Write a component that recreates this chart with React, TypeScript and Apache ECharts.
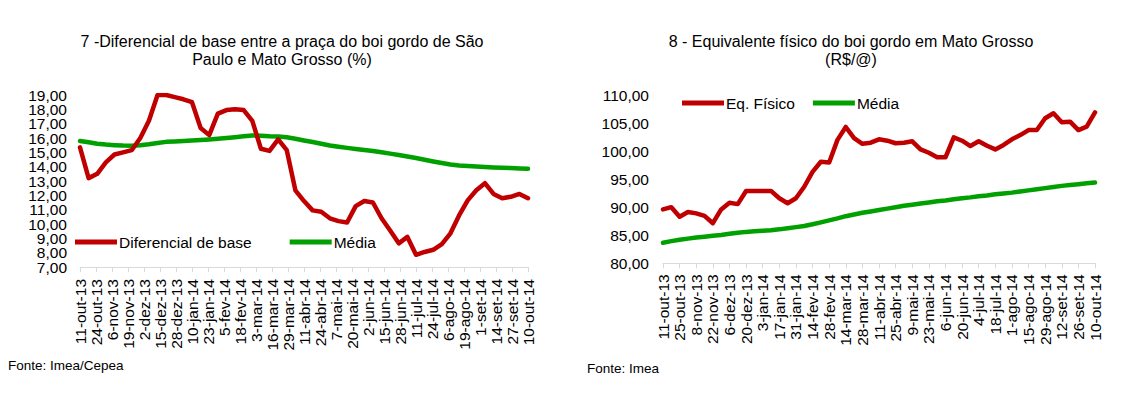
import React, { useEffect, useRef } from "react";
import * as echarts from "echarts";

// Weekly observation dates (shared by both charts)
const weekDates = [
  "11-out-13", "18-out-13", "25-out-13", "1-nov-13", "8-nov-13", "15-nov-13", "22-nov-13", "29-nov-13",
  "6-dez-13", "13-dez-13", "20-dez-13", "27-dez-13", "3-jan-14", "10-jan-14", "17-jan-14", "24-jan-14",
  "31-jan-14", "7-fev-14", "14-fev-14", "21-fev-14", "28-fev-14", "7-mar-14", "14-mar-14", "21-mar-14",
  "28-mar-14", "4-abr-14", "11-abr-14", "18-abr-14", "25-abr-14", "2-mai-14", "9-mai-14", "16-mai-14",
  "23-mai-14", "30-mai-14", "6-jun-14", "13-jun-14", "20-jun-14", "27-jun-14", "4-jul-14", "11-jul-14",
  "18-jul-14", "25-jul-14", "1-ago-14", "8-ago-14", "15-ago-14", "22-ago-14", "29-ago-14", "5-set-14",
  "12-set-14", "19-set-14", "26-set-14", "3-out-14", "10-out-14",
];

// Left chart tick labels (every 13 days)
const leftTickLabels = [
  "11-out-13", "24-out-13", "6-nov-13", "19-nov-13", "2-dez-13", "15-dez-13", "28-dez-13", "10-jan-14",
  "23-jan-14", "5-fev-14", "18-fev-14", "3-mar-14", "16-mar-14", "29-mar-14", "11-abr-14", "24-abr-14",
  "7-mai-14", "20-mai-14", "2-jun-14", "15-jun-14", "28-jun-14", "11-jul-14", "24-jul-14", "6-ago-14",
  "19-ago-14", "1-set-14", "14-set-14", "27-set-14", "10-out-14",
];

// Left chart y tick labels (7 .. 19, step 1)
const leftYTicks = [7, 8, 9, 10, 11, 12, 13, 14, 15, 16, 17, 18, 19];

const leftDiferencial = [
  15.35, 13.2, 13.5, 14.3, 14.85, 15.0, 15.15, 16.0, 17.2, 19.0, 19.0, 18.85, 18.7, 18.5, 16.7, 16.2,
  17.7, 17.95, 18.0, 17.95, 17.2, 15.25, 15.1, 15.9, 15.15, 12.35, 11.6, 10.95, 10.85, 10.4, 10.2, 10.1,
  11.25, 11.6, 11.5, 10.4, 9.55, 8.65, 9.1, 7.85, 8.05, 8.2, 8.6, 9.35, 10.6, 11.65, 12.35, 12.85,
  12.1, 11.8, 11.9, 12.1, 11.8,
];

const leftMedia = [
  15.79, 15.7, 15.6, 15.54, 15.5, 15.47, 15.46, 15.5, 15.56, 15.65, 15.73, 15.76, 15.79, 15.83, 15.86, 15.9,
  15.95, 16.0, 16.06, 16.12, 16.18, 16.16, 16.12, 16.1, 16.05, 15.95, 15.83, 15.72, 15.6, 15.48, 15.39, 15.31,
  15.24, 15.16, 15.09, 15.0, 14.91, 14.82, 14.71, 14.6, 14.48, 14.36, 14.25, 14.15, 14.08, 14.04, 14.01, 13.98,
  13.95, 13.93, 13.9, 13.88, 13.85,
];

const rightEqFisico = [
  89.6, 90.0, 88.3, 89.15, 88.9, 88.45, 87.15, 89.6, 90.8, 90.55, 92.9, 92.9, 92.9, 92.9, 91.6, 90.7,
  91.6, 93.65, 96.3, 98.1, 97.95, 102.0, 104.3, 102.3, 101.3, 101.5, 102.1, 101.85, 101.4, 101.5, 101.75, 100.3,
  99.7, 98.9, 98.9, 102.45, 101.85, 100.9, 101.75, 100.95, 100.3, 101.1, 102.1, 102.85, 103.75, 103.75, 105.85, 106.75,
  105.15, 105.25, 103.75, 104.35, 106.9,
];

const rightMedia = [
  83.67, 83.95, 84.2, 84.4, 84.6, 84.75, 84.9, 85.05, 85.25, 85.45, 85.6, 85.7, 85.8, 85.9, 86.05, 86.25,
  86.45, 86.65, 86.95, 87.3, 87.65, 88.0, 88.4, 88.7, 89.0, 89.25, 89.5, 89.75, 90.0, 90.25, 90.45, 90.65,
  90.85, 91.05, 91.2, 91.4, 91.6, 91.75, 91.95, 92.1, 92.3, 92.45, 92.6, 92.8, 93.0, 93.2, 93.4, 93.6,
  93.8, 93.95, 94.1, 94.25, 94.4,
];

const FONT = '"Liberation Sans", Arial, sans-serif';
const RED = "#C00000";
const GREEN = "#00A000";
const FS = 15.5;

const fmt = (v: number) => v.toFixed(2).replace(".", ",");

export default function App() {
  const ref = useRef<HTMLDivElement>(null);

  useEffect(() => {
    if (!ref.current) return;
    const chart = echarts.init(ref.current, null, { renderer: "svg" });

    const axisLine = { show: true, lineStyle: { color: "#d9d9d9", width: 1 } };
    const axisTick = { show: true, length: 5, lineStyle: { color: "#d9d9d9" } };
    const lineStyleBase = { width: 4.5, cap: "round", join: "round" };
    const legendCommon = {
      padding: 0,
      icon: "rect",
      itemWidth: 42,
      itemHeight: 5,
      selectedMode: false,
      textStyle: { fontFamily: FONT, fontSize: FS, color: "#000", padding: [0, 0, 0, -3] },
    };

    chart.setOption({
      animation: false,
      backgroundColor: "#ffffff",
      textStyle: { fontFamily: FONT },
      title: [
        {
          text: "7 -Diferencial de base entre a praça do boi gordo de São\nPaulo e Mato Grosso (%)",
          left: 282,
          top: 32,
          padding: 0,
          textAlign: "center",
          textStyle: { fontFamily: FONT, fontSize: 16, fontWeight: "normal", color: "#000", lineHeight: 18 },
        },
        {
          text: "8 - Equivalente físico do boi gordo em Mato Grosso\n(R$/@)",
          left: 851,
          top: 32,
          padding: 0,
          textAlign: "center",
          textStyle: { fontFamily: FONT, fontSize: 16, fontWeight: "normal", color: "#000", lineHeight: 18 },
        },
      ],
      legend: [
        {
          ...legendCommon,
          data: ["Diferencial de base", "Média"],
          left: 75,
          top: 234,
          itemGap: 38,
        },
        {
          ...legendCommon,
          data: ["Eq. Físico", "Média"],
          left: 682,
          top: 95,
          itemGap: 18,
        },
      ],
      grid: [
        { left: 80, top: 95, width: 448, height: 172 },
        { left: 663, top: 95, width: 432, height: 168.3 },
      ],
      xAxis: [
        {
          type: "value",
          gridIndex: 0,
          min: 0,
          max: (weekDates.length - 1) * 7,
          interval: 13,
          axisLine,
          axisTick,
          splitLine: { show: false },
          axisLabel: {
            rotate: 90,
            margin: 12,
            fontFamily: FONT,
            fontSize: FS,
            color: "#000",
            showMinLabel: true,
            showMaxLabel: true,
            formatter: (v: number) => leftTickLabels[Math.round(v / 13)] ?? "",
          },
        },
        {
          type: "category",
          gridIndex: 1,
          data: weekDates,
          boundaryGap: false,
          axisLine,
          axisTick: { ...axisTick, interval: 1 },
          splitLine: { show: false },
          axisLabel: {
            interval: 1,
            rotate: 90,
            margin: 11,
            fontFamily: FONT,
            fontSize: FS,
            color: "#000",
          },
        },
      ],
      yAxis: [
        {
          // value scale used by the left chart's series (labels drawn by the axis below)
          type: "value",
          gridIndex: 0,
          min: leftYTicks[0],
          max: leftYTicks[leftYTicks.length - 1],
          interval: 1,
          axisLine: { show: false },
          axisTick: { show: false },
          splitLine: { show: false },
          axisLabel: { show: false },
        },
        {
          type: "value",
          gridIndex: 1,
          min: 80,
          max: 110,
          interval: 5,
          axisLine: { show: false },
          axisTick: { show: false },
          splitLine: { show: false },
          axisLabel: {
            margin: 14,
            fontFamily: FONT,
            fontSize: FS,
            color: "#000",
            formatter: fmt,
            showMinLabel: true,
            showMaxLabel: true,
          },
        },
        {
          // tick labels of the left chart, one per unit, all shown like the reference
          type: "category",
          gridIndex: 0,
          position: "left",
          data: leftYTicks.map(fmt),
          boundaryGap: false,
          axisLine: { show: false },
          axisTick: { show: false },
          splitLine: { show: false },
          axisLabel: {
            interval: 0,
            margin: 13,
            fontFamily: FONT,
            fontSize: FS,
            color: "#000",
          },
        },
      ],
      series: [
        {
          name: "Diferencial de base",
          type: "line",
          xAxisIndex: 0,
          yAxisIndex: 0,
          data: leftDiferencial.map((v, i) => [i * 7, v]),
          showSymbol: false,
          symbol: "none",
          color: RED,
          lineStyle: { ...lineStyleBase, color: RED },
          z: 3,
        },
        {
          name: "Média",
          type: "line",
          xAxisIndex: 0,
          yAxisIndex: 0,
          data: leftMedia.map((v, i) => [i * 7, v]),
          showSymbol: false,
          symbol: "none",
          color: GREEN,
          lineStyle: { ...lineStyleBase, color: GREEN },
          z: 2,
        },
        {
          name: "Eq. Físico",
          type: "line",
          xAxisIndex: 1,
          yAxisIndex: 1,
          data: rightEqFisico,
          showSymbol: false,
          symbol: "none",
          color: RED,
          lineStyle: { ...lineStyleBase, color: RED },
          z: 3,
        },
        {
          name: "Média",
          type: "line",
          xAxisIndex: 1,
          yAxisIndex: 1,
          data: rightMedia,
          showSymbol: false,
          symbol: "none",
          color: GREEN,
          lineStyle: { ...lineStyleBase, color: GREEN },
          z: 2,
        },
      ],
      graphic: [
        {
          type: "text",
          left: 8,
          top: 358,
          style: { text: "Fonte: Imea/Cepea", fontFamily: FONT, fontSize: 13.5, fill: "#000" },
        },
        {
          type: "text",
          left: 587,
          top: 361,
          style: { text: "Fonte: Imea", fontFamily: FONT, fontSize: 13.5, fill: "#000" },
        },
      ],
    });

    return () => chart.dispose();
  }, []);

  return (
    <div
      ref={ref}
      style={{ position: "fixed", left: 0, top: 0, width: 1125, height: 394, background: "#fff" }}
    />
  );
}
